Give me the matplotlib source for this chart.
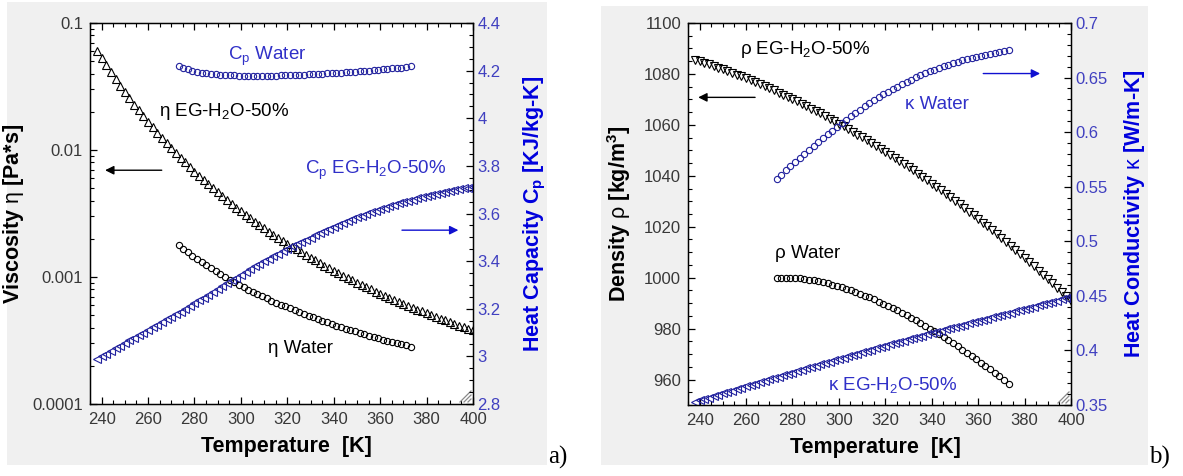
import numpy as np
import matplotlib
matplotlib.use('Agg')
import matplotlib.pyplot as plt
from matplotlib.patches import Rectangle
from matplotlib.ticker import MultipleLocator, LogLocator, NullFormatter, FixedLocator, FixedFormatter

plt.rcParams['font.family'] = ['Liberation Sans', 'DejaVu Sans']
plt.rcParams['mathtext.fontset'] = 'custom'
plt.rcParams['mathtext.rm'] = 'Liberation Sans'
plt.rcParams['mathtext.it'] = 'Liberation Sans:italic'
plt.rcParams['mathtext.bf'] = 'Liberation Sans:bold'

# ---------------- data ----------------
T_eg = np.arange(238, 401, 2)                 # K, EG-H2O-50%
T_w = 273.15 + np.arange(0, 101, 2)           # K, water

visc_eg = [0.0606, 0.0530, 0.0465, 0.0410, 0.0362, 0.0321, 0.0286, 0.0255, 0.0228, 0.0205,
           0.0185, 0.0167, 0.0151, 0.0137, 0.0124, 0.0113, 0.01035, 0.00947, 0.00868, 0.00798,
           0.00734, 0.00677, 0.00626, 0.00579, 0.00537, 0.00498, 0.00464, 0.00432, 0.00403, 0.00376,
           0.00352, 0.00330, 0.00309, 0.00290, 0.00273, 0.00257, 0.00242, 0.00228, 0.00216, 0.00204,
           0.00193, 0.00183, 0.00173, 0.00165, 0.00156, 0.00149, 0.00142, 0.00135, 0.00129, 0.00123,
           0.00117, 0.00112, 0.00107, 0.00102, 0.000981, 0.000940, 0.000902, 0.000865, 0.000831, 0.000799,
           0.000768, 0.000739, 0.000711, 0.000685, 0.000660, 0.000636, 0.000614, 0.000593, 0.000572, 0.000553,
           0.000535, 0.000517, 0.000501, 0.000485, 0.000469, 0.000455, 0.000441, 0.000428, 0.000415, 0.000403,
           0.000391, 0.000380]

cp_eg = [2.990, 3.001, 3.012, 3.023, 3.034, 3.045, 3.056, 3.067, 3.078, 3.089,
         3.100, 3.111, 3.122, 3.133, 3.144, 3.155, 3.166, 3.177, 3.188, 3.199,
         3.211, 3.223, 3.235, 3.247, 3.259, 3.271, 3.283, 3.295, 3.307, 3.319,
         3.331, 3.343, 3.355, 3.367, 3.378, 3.389, 3.400, 3.411, 3.422, 3.432,
         3.442, 3.452, 3.462, 3.472, 3.481, 3.490, 3.499, 3.508, 3.517, 3.526,
         3.534, 3.542, 3.550, 3.560, 3.568, 3.576, 3.584, 3.591, 3.598, 3.605,
         3.612, 3.619, 3.625, 3.631, 3.637, 3.643, 3.648, 3.653, 3.658, 3.663,
         3.668, 3.673, 3.677, 3.681, 3.685, 3.689, 3.693, 3.697, 3.701, 3.705,
         3.709, 3.713]

rho_eg = [1085.6, 1085.0, 1084.4, 1083.8, 1083.1, 1082.5, 1081.8, 1081.1, 1080.4, 1079.7,
          1079.0, 1078.3, 1077.5, 1076.7, 1076.0, 1075.2, 1074.3, 1073.5, 1072.7, 1071.8,
          1071.0, 1070.1, 1069.2, 1068.3, 1067.3, 1066.4, 1065.4, 1064.5, 1063.5, 1062.5,
          1061.5, 1060.5, 1059.4, 1058.4, 1057.3, 1056.2, 1055.1, 1054.0, 1052.9, 1051.7,
          1050.6, 1049.4, 1048.2, 1047.0, 1045.8, 1044.6, 1043.4, 1042.1, 1040.8, 1039.6,
          1038.3, 1036.9, 1035.6, 1034.3, 1032.9, 1031.6, 1030.2, 1028.8, 1027.4, 1025.9,
          1024.5, 1023.0, 1021.6, 1020.1, 1018.6, 1017.1, 1015.5, 1014.0, 1012.5, 1010.9,
          1009.3, 1007.7, 1006.1, 1004.5, 1002.8, 1001.2, 999.5, 997.8, 996.1, 994.4,
          992.7, 990.9]

k_eg = [0.3530, 0.3543, 0.3555, 0.3568, 0.3581, 0.3594, 0.3606, 0.3619, 0.3632, 0.3644,
        0.3657, 0.3670, 0.3683, 0.3695, 0.3708, 0.3721, 0.3734, 0.3746, 0.3759, 0.3772,
        0.3784, 0.3797, 0.3810, 0.3822, 0.3835, 0.3847, 0.3860, 0.3872, 0.3885, 0.3897,
        0.3910, 0.3922, 0.3934, 0.3947, 0.3959, 0.3971, 0.3983, 0.3995, 0.4007, 0.4019,
        0.4031, 0.4043, 0.4055, 0.4067, 0.4079, 0.4090, 0.4102, 0.4113, 0.4125, 0.4136,
        0.4148, 0.4159, 0.4170, 0.4181, 0.4192, 0.4203, 0.4214, 0.4225, 0.4236, 0.4247,
        0.4258, 0.4269, 0.4280, 0.4291, 0.4302, 0.4313, 0.4324, 0.4335, 0.4346, 0.4357,
        0.4368, 0.4379, 0.4390, 0.4401, 0.4412, 0.4423, 0.4434, 0.4445, 0.4456, 0.4467,
        0.4478, 0.4489]

visc_w_mPas = [1.792, 1.674, 1.568, 1.473, 1.386, 1.306, 1.235, 1.170, 1.109, 1.053,
               1.002, 0.955, 0.911, 0.870, 0.833, 0.797, 0.765, 0.734, 0.705, 0.678,
               0.653, 0.629, 0.607, 0.586, 0.566, 0.547, 0.529, 0.512, 0.496, 0.481,
               0.466, 0.453, 0.440, 0.427, 0.415, 0.404, 0.393, 0.383, 0.373, 0.364,
               0.355, 0.346, 0.338, 0.330, 0.322, 0.315, 0.308, 0.301, 0.295, 0.289,
               0.282]

cp_w = [4.218, 4.211, 4.205, 4.200, 4.196, 4.192, 4.189, 4.187, 4.185, 4.183,
        4.182, 4.181, 4.180, 4.179, 4.179, 4.178, 4.178, 4.178, 4.178, 4.178,
        4.179, 4.179, 4.180, 4.180, 4.181, 4.181, 4.182, 4.183, 4.184, 4.185,
        4.185, 4.187, 4.188, 4.189, 4.190, 4.191, 4.193, 4.194, 4.195, 4.197,
        4.198, 4.200, 4.202, 4.203, 4.205, 4.207, 4.209, 4.211, 4.213, 4.216,
        4.218]

rho_w = [999.84, 999.94, 999.97, 999.94, 999.85, 999.70, 999.50, 999.24, 998.94, 998.60,
         998.21, 997.77, 997.30, 996.79, 996.24, 995.65, 995.03, 994.37, 993.69, 992.97,
         992.22, 991.44, 990.63, 989.79, 988.93, 988.04, 987.12, 986.17, 985.20, 984.21,
         983.20, 982.16, 981.09, 980.01, 978.90, 977.77, 976.61, 975.44, 974.24, 973.03,
         971.79, 970.53, 969.26, 967.96, 966.65, 965.31, 963.96, 962.59, 961.20, 959.79,
         958.36]

k_w = [0.5570, 0.5610, 0.5649, 0.5687, 0.5724, 0.5760, 0.5798, 0.5835, 0.5872, 0.5908,
       0.5944, 0.5979, 0.6013, 0.6047, 0.6080, 0.6114, 0.6145, 0.6176, 0.6206, 0.6236,
       0.6266, 0.6293, 0.6320, 0.6346, 0.6371, 0.6396, 0.6418, 0.6440, 0.6461, 0.6482,
       0.6503, 0.6521, 0.6539, 0.6556, 0.6573, 0.6590, 0.6604, 0.6618, 0.6632, 0.6645,
       0.6658, 0.6669, 0.6680, 0.6690, 0.6700, 0.6710, 0.6718, 0.6727, 0.6735, 0.6743,
       0.6751]

x_ticks = [240, 260, 280, 300, 320, 340, 360, 380, 400]
visc_ticks = [0.0001, 0.001, 0.01, 0.1]
visc_tick_labels = ['0.0001', '0.001', '0.01', '0.1']
cp_ticks = [2.8, 3.0, 3.2, 3.4, 3.6, 3.8, 4.0, 4.2, 4.4]
cp_tick_labels = ['2.8', '3', '3.2', '3.4', '3.6', '3.8', '4', '4.2', '4.4']
rho_ticks = [960, 980, 1000, 1020, 1040, 1060, 1080, 1100]
k_ticks = [0.35, 0.4, 0.45, 0.5, 0.55, 0.6, 0.65, 0.7]
k_tick_labels = ['0.35', '0.4', '0.45', '0.5', '0.55', '0.6', '0.65', '0.7']

# ---------------- style ----------------
BLK = 'black'
MBLUE = '#22229e'      # marker blue
TBLUE = '#3030c8'      # annotation blue
LBLUE = '#0000dd'      # axis label blue
TKBLUE = '#4040c0'     # tick label blue
TKGRAY = '#383838'
W, H = 1183, 476

fig = plt.figure(figsize=(W / 100, H / 100), dpi=100)
fig.patch.set_facecolor('white')

for (x0, y0, x1, y1) in [(7, 2, 547, 465), (601, 6, 1148, 465)]:
    fig.patches.append(Rectangle((x0 / W, 1 - y1 / H), (x1 - x0) / W, (y1 - y0) / H,
                                 transform=fig.transFigure, facecolor='#f0f0f0',
                                 edgecolor='none', zorder=-5))

ax1 = fig.add_axes([90 / W, 1 - 404 / H, 383 / W, 381 / H])
ax2 = fig.add_axes([688 / W, 1 - 405 / H, 383 / W, 382 / H])
for ax in (ax1, ax2):
    ax.set_facecolor('white')
    for s in ax.spines.values():
        s.set_linewidth(1.0)

ax1b = ax1.twinx()
ax2b = ax2.twinx()

tri_kw = dict(ls='none', ms=6, mfc='none', mew=0.8)
cir_kw = dict(ls='none', marker='o', ms=4.5, mfc='none', mew=0.8)

# ---- panel a ----
ax1.set_yscale('log')
ax1.plot(T_eg, visc_eg, marker='^', mec=BLK, **tri_kw)
ax1.plot(T_w, np.array(visc_w_mPas) * 1e-3, mec=BLK, **cir_kw)
ax1b.plot(T_eg, cp_eg, marker='<', mec=MBLUE, **tri_kw)
ax1b.plot(T_w, cp_w, mec=MBLUE, **cir_kw)

ax1.set_xlim(235, 400)
ax1.set_ylim(1e-4, 0.1)
ax1b.set_ylim(2.8, 4.4)

# ---- panel b ----
ax2.plot(T_eg, rho_eg, marker='v', mec=BLK, **tri_kw)
ax2.plot(T_w, rho_w, mec=BLK, **cir_kw)
ax2b.plot(T_eg, k_eg, marker='<', mec=MBLUE, **tri_kw)
ax2b.plot(T_w, k_w, mec=MBLUE, **cir_kw)

ax2.set_xlim(235, 400)
ax2.set_ylim(950, 1100)
ax2b.set_ylim(0.35, 0.7)

# ---- ticks ----
for ax in (ax1, ax2):
    ax.xaxis.set_major_locator(FixedLocator(x_ticks))
    ax.xaxis.set_minor_locator(MultipleLocator(5))
    ax.tick_params(axis='both', which='both', direction='in', top=True, right=False,
                   labelsize=12, labelcolor=TKGRAY, color=BLK)
    ax.tick_params(axis='both', which='major', length=5, width=0.9)
    ax.tick_params(axis='both', which='minor', length=3, width=0.8)
    ax.tick_params(axis='x', pad=6)
    ax.tick_params(axis='y', pad=5)

ax1.yaxis.set_major_locator(FixedLocator(visc_ticks))
ax1.yaxis.set_major_formatter(FixedFormatter(visc_tick_labels))
ax1.yaxis.set_minor_locator(LogLocator(base=10, subs=np.arange(2, 10)))
ax1.yaxis.set_minor_formatter(NullFormatter())

ax2.yaxis.set_major_locator(FixedLocator(rho_ticks))
ax2.yaxis.set_minor_locator(MultipleLocator(5))

for axb in (ax1b, ax2b):
    axb.tick_params(axis='y', which='both', direction='in', right=True, left=False,
                    labelsize=12, labelcolor=TKBLUE, color=BLK, pad=3)
    axb.tick_params(axis='y', which='major', length=5, width=0.9)
    axb.tick_params(axis='y', which='minor', length=3, width=0.8)

ax1b.yaxis.set_major_locator(FixedLocator(cp_ticks))
ax1b.yaxis.set_major_formatter(FixedFormatter(cp_tick_labels))
ax1b.yaxis.set_minor_locator(MultipleLocator(0.05))
ax2b.yaxis.set_major_locator(FixedLocator(k_ticks))
ax2b.yaxis.set_major_formatter(FixedFormatter(k_tick_labels))
ax2b.yaxis.set_minor_locator(MultipleLocator(0.01))

# ---- axis labels ----
lab = dict(fontsize=15.5, fontweight='bold')
ax1.set_xlabel('Temperature  [K]', **lab)
ax2.set_xlabel('Temperature  [K]', **lab)
ax1.xaxis.set_label_coords(0.513, -0.085)
ax2.xaxis.set_label_coords(0.49, -0.085)

ax1.set_ylabel(r'Viscosity $\mathrm{\eta}$ [Pa*s]', color=BLK, **lab)
ax1.yaxis.set_label_coords(-0.168, 0.5)
ax1b.set_ylabel(r'Heat Capacity C$_\mathbf{p}$ [KJ/kg-K]', color=LBLUE, **lab)
ax1b.yaxis.set_label_coords(1.128, 0.5)

ax2.set_ylabel(r'Density $\mathrm{\rho}$ [kg/m$^\mathbf{3}$]', color=BLK, **lab)
ax2.yaxis.set_label_coords(-0.144, 0.5)
ax2b.set_ylabel(r'Heat Conductivity $\mathrm{\kappa}$ [W/m-K]', color=LBLUE, **lab)
ax2b.yaxis.set_label_coords(1.132, 0.5)

# ---- annotations ----
ann = dict(fontsize=13.5, ha='left', va='center')
ax1.text(264.7, 0.02, 'η EG-H$_2$O-50%', color=BLK, **ann)
ax1.text(311.7, 0.000273, 'η Water', color=BLK, **ann)
ax1b.text(294.6, 4.26, r'C$_\mathrm{p}$ Water', color=TBLUE, **ann)
ax1b.text(327.7, 3.779, r'C$_\mathrm{p}$ EG-H$_2$O-50%', color=TBLUE, **ann)

ax2.text(257.4, 1089.5, 'ρ EG-H$_2$O-50%', color=BLK, **ann)
ax2.text(272.5, 1009.4, 'ρ Water', color=BLK, **ann)
ax2b.text(328.5, 0.6257, 'κ Water', color=TBLUE, **ann)
ax2b.text(295.4, 0.3682, 'κ EG-H$_2$O-50%', color=TBLUE, **ann)

arr_k = dict(arrowstyle='-|>', lw=1.0, mutation_scale=13, shrinkA=0, shrinkB=0)
ax1.annotate('', xy=(241.5, 0.00693), xytext=(265.9, 0.00693),
             arrowprops=dict(color=BLK, **arr_k))
ax1b.annotate('', xy=(393.7, 3.53), xytext=(369.4, 3.53),
              arrowprops=dict(color='#1010d0', **arr_k))
ax2.annotate('', xy=(239.4, 1070.8), xytext=(263.9, 1070.8),
             arrowprops=dict(color=BLK, **arr_k))
ax2b.annotate('', xy=(386.7, 0.6537), xytext=(362.2, 0.6537),
              arrowprops=dict(color='#1010d0', **arr_k))

# ---- resize grip decoration ----
for ax in (ax1, ax2):
    for d in (5, 9, 13):
        ax.plot([1 - d / 383, 1 - 2 / 383], [2 / 381, d / 381], transform=ax.transAxes,
                color='#8a8a8a', lw=0.9, clip_on=False, zorder=5)

# ---- panel tags ----
fig.text(548 / W, 1 - 457 / H, 'a)', family='Liberation Serif', fontsize=18, ha='left', va='center')
fig.text(1149 / W, 1 - 457 / H, 'b)', family='Liberation Serif', fontsize=18, ha='left', va='center')

fig.savefig('out.png', dpi=100)
